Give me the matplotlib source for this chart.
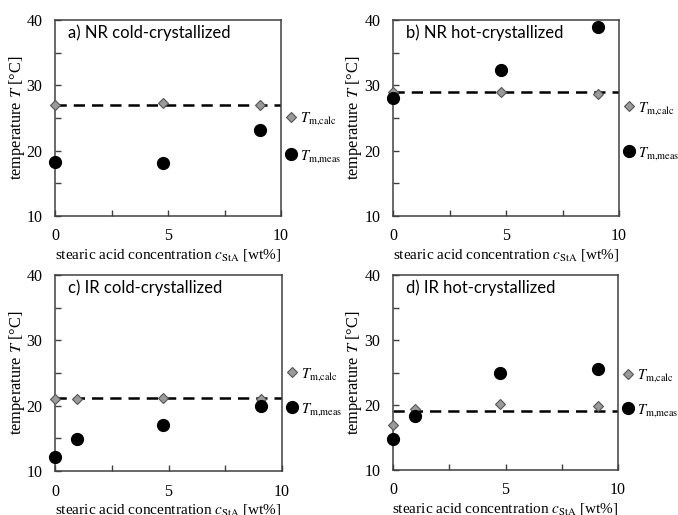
import matplotlib
matplotlib.use("Agg")
import matplotlib.pyplot as plt

plt.rcParams['font.family'] = ['Liberation Serif', 'DejaVu Serif']
plt.rcParams['mathtext.fontset'] = 'stix'

titles = ["a) NR cold-crystallized", "b) NR hot-crystallized",
          "c) IR cold-crystallized", "d) IR hot-crystallized"]

x_nr = [0, 4.76, 9.09]
x_ir = [0, 0.99, 4.76, 9.09]

calc_a = [27.0, 27.3, 27.05]
meas_a = [18.3, 18.1, 23.2]
calc_b = [29.0, 29.0, 28.7]
meas_b = [28.1, 32.3, 39.0]
calc_c = [21.0, 21.0, 21.2, 21.0]
meas_c = [12.1, 14.85, 17.1, 20.0]
calc_d = [16.9, 19.4, 20.15, 19.8]
meas_d = [14.8, 18.25, 25.0, 25.6]

dash_levels = [27.0, 29.0, 21.1, 19.15]

xticks = [0, 5, 10]
yticks = [10, 20, 30, 40]

panels = [
    (x_nr, calc_a, meas_a),
    (x_nr, calc_b, meas_b),
    (x_ir, calc_c, meas_c),
    (x_ir, calc_d, meas_d),
]

W, H = 678, 515
fig = plt.figure(figsize=(W / 100, H / 100), dpi=100)

# axes boxes in pixels: left, top, right, bottom
boxes = [(55, 20, 281, 216), (393, 20, 619, 216),
         (55, 275, 282, 471), (393, 275, 618, 470)]
leg_y = [0.40, 0.434, 0.405, 0.395]
leg_sp = [1.4, 1.95, 1.25, 1.2]

for i, ((xs, calc, meas), box) in enumerate(zip(panels, boxes)):
    l, t, r, b = box
    ax = fig.add_axes([l / W, 1 - b / H, (r - l) / W, (b - t) / H])
    ax.set_xlim(0, 10)
    ax.set_ylim(10, 40)
    ax.axhline(dash_levels[i], color='black', lw=1.8, ls=(0, (4.5, 2.8)), zorder=2)
    ax.plot(xs, calc, ls='none', marker='D', ms=5.2, mfc='#9a9a9a', mec='#555555',
            mew=0.8, clip_on=False, zorder=4, label=r'$T_{\mathrm{m{,}calc}}$')
    ax.plot(xs, meas, ls='none', marker='o', ms=8.5, mfc='black', mec='black',
            clip_on=False, zorder=5, label=r'$T_{\mathrm{m{,}meas}}$')
    ax.set_xticks(xticks)
    ax.set_xticks([2.5, 7.5], minor=True)
    ax.set_yticks(yticks)
    ax.set_yticks([15, 25, 35], minor=True)
    ax.tick_params(which='both', direction='in', length=4, width=1, color='#404040',
                   labelsize=11.5)
    ax.tick_params(axis='x', pad=9)
    ax.tick_params(axis='y', pad=9)
    for s in ax.spines.values():
        s.set_color('#404040')
        s.set_linewidth(1.1)
    ax.set_xlabel(r'stearic acid concentration $c_{\mathrm{StA}}$ [wt%]', fontsize=11,
                  labelpad=1.5)
    ax.set_ylabel(r'temperature $T$ [°C]', fontsize=11.8, labelpad=0)
    ax.text(0.058, 0.934, titles[i], transform=ax.transAxes, ha='left', va='center',
            fontsize=12, family=['Lato', 'DejaVu Sans'])
    leg = ax.legend(loc='center left', bbox_to_anchor=(1.0, leg_y[i]),
                    frameon=False, fontsize=10.5, handlelength=0.6, handletextpad=0.3,
                    labelspacing=leg_sp[i], borderpad=0.2, borderaxespad=0.2)
    leg.set_zorder(0)

fig.savefig('out.png', dpi=100)
